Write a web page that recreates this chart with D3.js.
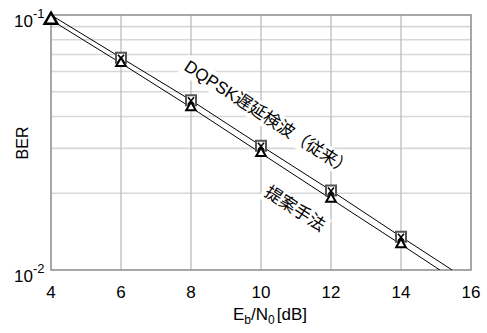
<!DOCTYPE html>
<html>
<head>
<meta charset="utf-8">
<script src="https://cdn.jsdelivr.net/npm/d3@7"></script>
<style>
  body { margin: 0; background: #fff; }
  text { font-family: "Liberation Sans", Arial, sans-serif; fill: #000; }
  .jp { font-family: "Liberation Sans", "Noto Sans CJK JP", sans-serif; }
</style>
</head>
<body>
<div class="canvas"></div>
<script>
// data
const ebn0 = [4, 6, 8, 10, 12, 14];
const berConv = [0.1, 0.068, 0.0463, 0.0307, 0.0205, 0.0135];   // DQPSK遅延検波(従来)
const berProp = [0.0956, 0.0647, 0.0434, 0.0287, 0.019, 0.0126];  // 提案手法
const lineConvX = [4, 6, 8, 10, 12, 14, 15.46];
const lineConvY = [0.1, 0.068, 0.0463, 0.0307, 0.0205, 0.0135, 0.01];
const lineProvX = [4, 6, 8, 10, 12, 14, 15.11];
const lineProvY = [0.0956, 0.0647, 0.0434, 0.0287, 0.019, 0.0126, 0.01];
const xTicks = [4, 6, 8, 10, 12, 14, 16];
const yMajor = [0.1, 0.01];
const yMinor = [0.02, 0.03, 0.04, 0.05, 0.06, 0.07, 0.08, 0.09];

const dims = { width: 487, height: 333 };
const plot = { left: 51, right: 471, top: 15, bottom: 270 };

const svg = d3.select('.canvas')
  .append('svg')
  .attr('width', dims.width)
  .attr('height', dims.height);

const x = d3.scaleLinear().domain([4, 16]).range([plot.left, plot.right]);
const y = d3.scaleLog().domain([0.01, 0.1]).range([plot.bottom, plot.top]);

svg.append('clipPath').attr('id', 'clip')
  .append('rect')
  .attr('x', plot.left).attr('y', plot.top)
  .attr('width', plot.right - plot.left).attr('height', plot.bottom - plot.top);

// grid
const grid = svg.append('g');
grid.selectAll('.hminor').data(yMinor).enter().append('line')
  .attr('x1', plot.left).attr('x2', plot.right)
  .attr('y1', d => y(d)).attr('y2', d => y(d))
  .attr('stroke', '#d8d8d8').attr('stroke-width', 1.6);
grid.selectAll('.vgrid').data(xTicks.slice(1, -1)).enter().append('line')
  .attr('x1', d => x(d)).attr('x2', d => x(d))
  .attr('y1', plot.top).attr('y2', plot.bottom)
  .attr('stroke', '#b8b8b8').attr('stroke-width', 1.2);

// labels with white boxes (they hide the grid)
const addLabel = (txt, cx, cy, angle, size) => {
  const g = svg.append('g')
    .attr('transform', `translate(${cx},${cy}) rotate(${angle})`);
  const t = g.append('text')
    .attr('class', 'jp')
    .attr('text-anchor', 'middle')
    .attr('dominant-baseline', 'central')
    .attr('font-size', size)
    .text(txt);
  const bb = t.node().getBBox();
  g.insert('rect', 'text')
    .attr('x', bb.x - 3).attr('y', bb.y - 1)
    .attr('width', bb.width + 6).attr('height', bb.height + 2)
    .attr('fill', '#fff');
};
addLabel('DQPSK遅延検波（従来）', 268, 118, 33, 17);
addLabel('提案手法', 295, 209, 33, 17);

// frame
svg.append('rect')
  .attr('x', plot.left).attr('y', plot.top)
  .attr('width', plot.right - plot.left).attr('height', plot.bottom - plot.top)
  .attr('fill', 'none').attr('stroke', '#8a8a8a').attr('stroke-width', 1.5);

// curves
const lineGen = d3.line().x(d => x(d[0])).y(d => y(d[1]));
const curves = svg.append('g').attr('clip-path', 'url(#clip)');
curves.append('path')
  .attr('d', lineGen(d3.zip(lineConvX, lineConvY)))
  .attr('fill', 'none').attr('stroke', '#000').attr('stroke-width', 1);
curves.append('path')
  .attr('d', lineGen(d3.zip(lineProvX, lineProvY)))
  .attr('fill', 'none').attr('stroke', '#000').attr('stroke-width', 1);

// markers
const conv = d3.zip(ebn0, berConv).slice(1);
const prop = d3.zip(ebn0, berProp);
svg.selectAll('.sq').data(conv).enter().append('rect')
  .attr('x', d => x(d[0]) - 5).attr('y', d => y(d[1]) - 5)
  .attr('width', 10).attr('height', 10)
  .attr('fill', '#fff').attr('stroke', '#555').attr('stroke-width', 2);
svg.selectAll('.cross').data(conv).enter().append('path')
  .attr('d', d => {
    const cx = x(d[0]), cy = y(d[1]);
    return `M${cx - 3},${cy - 3}L${cx + 3},${cy + 4}M${cx + 3},${cy - 3}L${cx - 3},${cy + 4}`;
  })
  .attr('stroke', '#000').attr('stroke-width', 1.6);
const tri = d3.symbol().type(d3.symbolTriangle);
svg.selectAll('.tri').data(prop).enter().append('path')
  .attr('transform', d => `translate(${x(d[0])},${y(d[1])})`)
  .attr('d', (d, i) => tri.size(i === 0 ? 70 : 40)())
  .attr('fill', '#fff').attr('stroke', '#000').attr('stroke-width', (d, i) => i === 0 ? 2.5 : 2);

// x tick labels
svg.selectAll('.xt').data(xTicks).enter().append('text')
  .attr('x', d => x(d)).attr('y', 298)
  .attr('text-anchor', 'middle').attr('font-size', 17)
  .text(d => d);

// y tick labels 10^-n
const yl = svg.selectAll('.yt').data(yMajor).enter().append('text')
  .attr('x', 14).attr('y', d => y(d) + 12)
  .attr('font-size', 17);
yl.append('tspan').text('10');
yl.append('tspan').attr('dy', -9).attr('font-size', 13).text(d => Math.round(Math.log10(d)));

// axis titles
const xt = svg.append('text')
  .attr('x', 270).attr('y', 320)
  .attr('text-anchor', 'middle').attr('font-size', 17);
xt.append('tspan').text('E');
xt.append('tspan').attr('dy', 4).attr('font-size', 12).text('b');
xt.append('tspan').attr('dy', -4).text('/N');
xt.append('tspan').attr('dy', 4).attr('font-size', 12).text('0');
xt.append('tspan').attr('dy', -4).attr('dx', 2).text('[dB]');

svg.append('text')
  .attr('transform', 'translate(28,143) rotate(-90)')
  .attr('text-anchor', 'middle').attr('font-size', 16)
  .text('BER');
</script>
</body>
</html>
